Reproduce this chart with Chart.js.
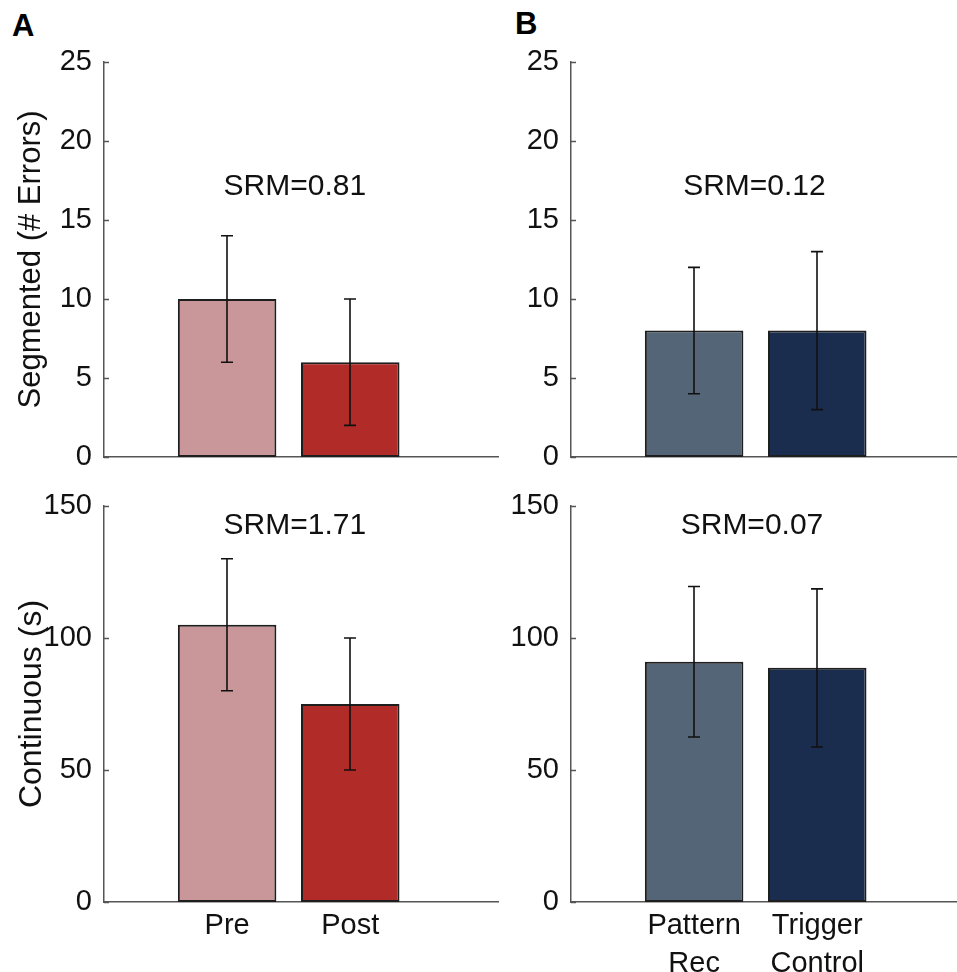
<!DOCTYPE html>
<html><head><meta charset="utf-8">
<script src="https://cdn.jsdelivr.net/npm/chart.js@4.4.1/dist/chart.umd.min.js"></script>
<style>
html,body{margin:0;padding:0;background:#fff;overflow:hidden;width:957px;height:972px;position:relative;}
canvas{position:absolute;}
.lbl{position:absolute;font:bold 31px "Liberation Sans",Arial,sans-serif;line-height:1;color:#000;}
</style></head><body>
<div class="lbl" style="left:12px;top:10px">A</div>
<div class="lbl" style="left:515px;top:8px">B</div>
<canvas id="c1" width="510" height="459" style="left:0;top:30px"></canvas>
<canvas id="c2" width="497" height="459" style="left:480px;top:30px"></canvas>
<canvas id="c3" width="510" height="498" style="left:0;top:474px"></canvas>
<canvas id="c4" width="497" height="498" style="left:480px;top:474px"></canvas>
<script>
// ---- data ----
const groupsA = ['Pre', 'Post'];
const groupsB = [['Pattern', 'Rec'], ['Trigger', 'Control']];
const segA = [10, 6];
const segALow = [6, 2];
const segAHigh = [14, 10];
const segB = [8, 8];
const segBLow = [4, 3];
const segBHigh = [12, 13];
const contA = [105, 75];
const contALow = [80, 50];
const contAHigh = [130, 100];
const contB = [91, 88.7];
const contBLow = [62.5, 58.7];
const contBHigh = [119.5, 118.6];
const srmLabels = ['SRM=0.81', 'SRM=0.12', 'SRM=1.71', 'SRM=0.07'];
const segTicks = [0, 5, 10, 15, 20, 25];
const contTicks = [0, 50, 100, 150];
const colorsA = ['#C9979A', '#B12B28'];
const colorsB = ['#536576', '#1B2D4F'];
const segTitle = 'Segmented (# Errors)';
const contTitle = 'Continuous (s)';

const FONT = '"Liberation Sans", Arial, sans-serif';
Chart.defaults.font.family = FONT;
Chart.defaults.color = '#111';

const overlay = {
  id: 'overlay',
  afterDatasetsDraw(chart, args, o) {
    const {ctx, scales: {x, y}} = chart;
    ctx.save();
    ctx.strokeStyle = '#111';
    ctx.lineWidth = 1.6;
    o.lo.forEach((l, i) => {
      const px = Math.round(x.getPixelForValue(i + 1));
      const y1 = y.getPixelForValue(l), y2 = y.getPixelForValue(o.hi[i]);
      ctx.beginPath();
      ctx.moveTo(px, y1); ctx.lineTo(px, y2);
      ctx.moveTo(px - 6, y1); ctx.lineTo(px + 6, y1);
      ctx.moveTo(px - 6, y2); ctx.lineTo(px + 6, y2);
      ctx.stroke();
    });
    ctx.fillStyle = '#111';
    ctx.font = '30px ' + FONT;
    ctx.textAlign = 'center';
    ctx.textBaseline = 'middle';
    ctx.fillText(o.text, x.getPixelForValue(o.tx), y.getPixelForValue(o.ty));
    ctx.restore();
  },
  afterDraw(chart) {
    const {ctx, scales: {y}, chartArea} = chart;
    ctx.save();
    ctx.strokeStyle = '#555';
    ctx.lineWidth = 1.5;
    y.ticks.forEach(t => {
      const py = Math.round(y.getPixelForValue(t.value)) + 0.5;
      ctx.beginPath();
      ctx.moveTo(chartArea.left, py);
      ctx.lineTo(chartArea.left + 5, py);
      ctx.stroke();
    });
    ctx.restore();
  }
};

function makePanel(id, p) {
  new Chart(document.getElementById(id), {
    type: 'bar',
    data: {
      datasets: [{
        data: p.values.map((v, i) => ({x: i + 1, y: v})),
        backgroundColor: p.colors,
        borderColor: '#1e1e1e',
        borderWidth: 2,
        borderSkipped: false,
        barPercentage: 0.8,
        categoryPercentage: 1.0
      }]
    },
    options: {
      responsive: false,
      animation: false,
      devicePixelRatio: 1,
      layout: {padding: {top: 32, right: 12, left: 0, bottom: 0}},
      plugins: {
        legend: {display: false},
        tooltip: {enabled: false},
        overlay: {lo: p.lo, hi: p.hi, text: p.text, tx: p.tx, ty: p.ty}
      },
      scales: {
        x: {
          type: 'linear', min: 0, max: 3.2, offset: false,
          grid: {display: false, drawTicks: false},
          border: {display: true, color: '#555', width: 1.5},
          afterBuildTicks: s => { s.ticks = p.labels.map((_, i) => ({value: i + 1})); },
          ticks: {
            display: p.showX, padding: 5, autoSkip: false, maxRotation: 0,
            font: {size: 29, lineHeight: 1.3}, color: '#111',
            callback: (v, i) => p.labels[i]
          },
          afterFit: s => { s.height = p.xHeight; }
        },
        y: {
          min: 0, max: p.yMax,
          grid: {display: false, drawTicks: false},
          border: {display: true, color: '#555', width: 1.5},
          afterBuildTicks: s => { s.ticks = p.yTicks.map(v => ({value: v})); },
          ticks: {padding: 12, font: {size: 29}, color: '#111'},
          title: {display: !!p.yTitle, text: p.yTitle || '', font: {size: p.titleSize || 31}, color: '#111', padding: {top: 13, bottom: 0}},
          afterFit: s => { s.width = p.yWidth; }
        }
      }
    },
    plugins: [overlay]
  });
}

makePanel('c1', {labels: groupsA, values: segA, lo: segALow, hi: segAHigh, colors: colorsA,
  yMax: 25, yTicks: segTicks, yTitle: segTitle, titleSize: 31, showX: false, text: srmLabels[0], tx: 1.55, ty: 17.1,
  yWidth: 104, xHeight: 32});
makePanel('c2', {labels: groupsB, values: segB, lo: segBLow, hi: segBHigh, colors: colorsB,
  yMax: 25, yTicks: segTicks, yTitle: null, showX: false, text: srmLabels[1], tx: 1.49, ty: 17.1,
  yWidth: 91, xHeight: 32});
makePanel('c3', {labels: groupsA, values: contA, lo: contALow, hi: contAHigh, colors: colorsA,
  yMax: 150, yTicks: contTicks, yTitle: contTitle, titleSize: 32, showX: true, text: srmLabels[2], tx: 1.55, ty: 142.7,
  yWidth: 104, xHeight: 70});
makePanel('c4', {labels: groupsB, values: contB, lo: contBLow, hi: contBHigh, colors: colorsB,
  yMax: 150, yTicks: contTicks, yTitle: null, showX: true, text: srmLabels[3], tx: 1.47, ty: 142.7,
  yWidth: 91, xHeight: 70});
</script>
</body></html>
